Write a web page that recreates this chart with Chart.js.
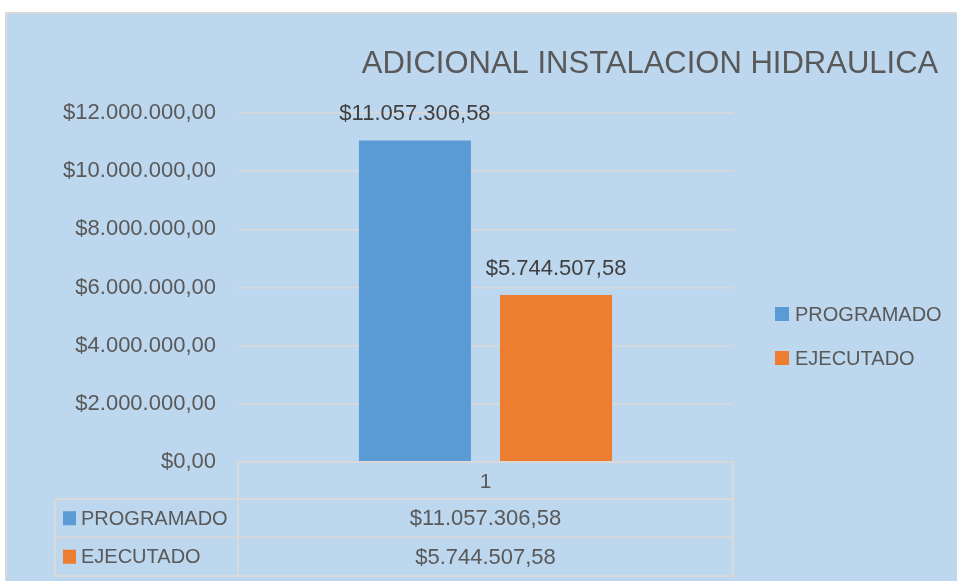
<!DOCTYPE html>
<html><head><meta charset="utf-8">
<script src="https://cdn.jsdelivr.net/npm/chart.js@4.4.1/dist/chart.umd.min.js"></script>
<style>html,body{margin:0;padding:0;background:#fff;}canvas{display:block;}</style>
</head><body>
<div style="width:957px;height:581px;position:relative"><canvas id="c" width="957" height="581"></canvas></div>
<script>
const categories = ['1'];
const seriesNames = ['PROGRAMADO', 'EJECUTADO'];
const programado = [11057306.58];
const ejecutado = [5744507.58];
const seriesColors = ['#5B9BD5', '#ED7D31'];
const titleText = 'ADICIONAL INSTALACION HIDRAULICA';
const yMax = 12000000, yStep = 2000000;

const FONT = '"Liberation Sans", Arial, sans-serif';
const TXT = '#595959';
const GRID = '#D9D9D9';
const BG = '#BDD7EE';

function fmt(v) {
  const parts = v.toFixed(2).split('.');
  return '$' + parts[0].replace(/\B(?=(\d{3})+(?!\d))/g, '.') + ',' + parts[1];
}

const decor = {
  id: 'decor',
  beforeDraw(chart) {
    const ctx = chart.ctx;
    ctx.save();
    ctx.fillStyle = '#fff';
    ctx.fillRect(0, 0, chart.width, chart.height);
    ctx.fillStyle = BG;
    ctx.fillRect(6, 13, chart.width - 6, chart.height - 13);
    ctx.strokeStyle = GRID; ctx.lineWidth = 2;
    ctx.beginPath(); ctx.moveTo(6, chart.height); ctx.lineTo(6, 13); ctx.lineTo(chart.width, 13); ctx.stroke();
    ctx.restore();
  },
  afterDraw(chart) {
    const ctx = chart.ctx;
    const a = chart.chartArea;
    const x = chart.scales.x;
    ctx.save();
    // title
    ctx.fillStyle = TXT;
    ctx.font = '31px ' + FONT;
    ctx.textAlign = 'center'; ctx.textBaseline = 'middle';
    ctx.fillText(titleText, 650, 64);
    // data labels
    ctx.fillStyle = '#404040';
    ctx.font = '22px ' + FONT;
    chart.data.datasets.forEach((ds, i) => {
      chart.getDatasetMeta(i).data.forEach((bar) => {
        ctx.fillText(fmt(ds.data[0]), bar.x, bar.y - 26);
      });
    });
    // legend
    ctx.font = '20px ' + FONT;
    ctx.textAlign = 'left';
    ctx.fillStyle = TXT;
    const legY = [314, 358];
    seriesNames.forEach((n, i) => {
      ctx.fillStyle = seriesColors[i];
      ctx.fillRect(775, legY[i] - 7, 14, 14);
      ctx.fillStyle = TXT;
      ctx.fillText(n, 795, legY[i] + 1);
    });
    // data table
    const L = 55, rowH = 38.5, top = a.bottom;
    const rows = [top, top + 37, top + 37 + rowH, top + 37 + 2 * rowH];
    ctx.strokeStyle = GRID; ctx.lineWidth = 2;
    ctx.beginPath();
    ctx.moveTo(a.left, rows[0]); ctx.lineTo(a.right, rows[0]);
    ctx.moveTo(L, rows[1]); ctx.lineTo(a.right, rows[1]);
    ctx.moveTo(L, rows[2]); ctx.lineTo(a.right, rows[2]);
    ctx.moveTo(L, rows[3]); ctx.lineTo(a.right, rows[3]);
    ctx.moveTo(L, rows[1]); ctx.lineTo(L, rows[3]);
    ctx.moveTo(a.left, rows[0]); ctx.lineTo(a.left, rows[3]);
    ctx.moveTo(a.right, rows[0]); ctx.lineTo(a.right, rows[3]);
    ctx.stroke();
    ctx.fillStyle = TXT;
    ctx.textAlign = 'center';
    ctx.font = '21px ' + FONT;
    categories.forEach((c, j) => {
      const cx = x.getPixelForValue(j);
      ctx.fillText(c, cx, (rows[0] + rows[1]) / 2 + 2);
      ctx.font = '22px ' + FONT;
      chart.data.datasets.forEach((ds, i) => {
        ctx.fillText(fmt(ds.data[j]), cx, (rows[i + 1] + rows[i + 2]) / 2 + 1);
      });
    });
    ctx.font = '20px ' + FONT;
    ctx.textAlign = 'left';
    seriesNames.forEach((n, i) => {
      const cy = (rows[i + 1] + rows[i + 2]) / 2;
      ctx.fillStyle = seriesColors[i];
      ctx.fillRect(63, cy - 7, 13, 14);
      ctx.fillStyle = TXT;
      ctx.fillText(n, 81, cy + 1);
    });
    ctx.restore();
  }
};

new Chart(document.getElementById('c'), {
  type: 'bar',
  data: {
    labels: categories,
    datasets: [
      { label: seriesNames[0], data: programado, backgroundColor: seriesColors[0] },
      { label: seriesNames[1], data: ejecutado, backgroundColor: seriesColors[1] }
    ]
  },
  options: {
    responsive: false,
    animation: false,
    devicePixelRatio: 1,
    categoryPercentage: 0.57,
    barPercentage: 0.794,
    layout: { padding: { left: 0, right: 224, top: 113, bottom: 119 } },
    plugins: { legend: { display: false }, title: { display: false }, tooltip: { enabled: false } },
    scales: {
      x: { display: false, grid: { display: false } },
      y: {
        min: 0, max: yMax,
        border: { display: false },
        grid: { color: GRID, lineWidth: 1.5, drawTicks: false },
        ticks: { stepSize: yStep, padding: 22, color: TXT, font: { family: FONT, size: 22 }, callback: (v) => fmt(v) },
        afterFit(s) { s.width = 238; }
      }
    }
  },
  plugins: [decor]
});
</script>
</body></html>
